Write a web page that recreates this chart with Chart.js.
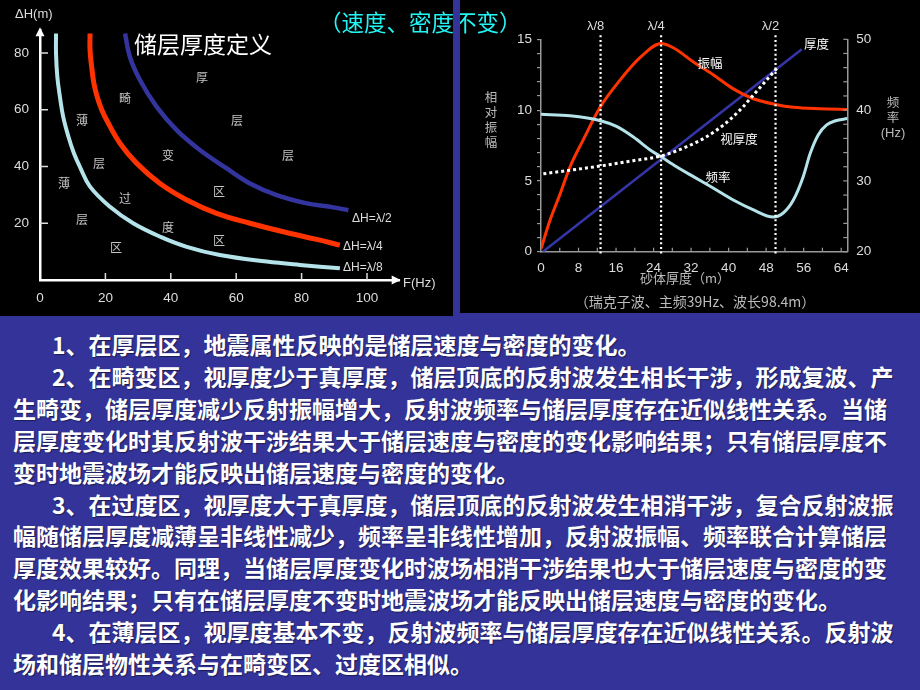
<!DOCTYPE html>
<html>
<head>
<meta charset="utf-8">
<script src="https://cdn.jsdelivr.net/npm/chart.js@4.4.1/dist/chart.umd.min.js"></script>
<style>
html,body{margin:0;padding:0;}
body{width:920px;height:690px;background:#333399;position:relative;overflow:hidden;font-family:"Noto Sans CJK SC",sans-serif;}
#lp{position:absolute;left:0;top:0;width:453px;height:316px;background:#000;}
#rp{position:absolute;left:460px;top:0;width:460px;height:313px;background:#000;}
#c1{position:absolute;left:0;top:0;}
#c2{position:absolute;left:460px;top:0;}
#title{position:absolute;left:319px;top:8px;font-size:22.5px;line-height:26px;color:#22f4f4;white-space:nowrap;}
#stripe{position:absolute;left:453px;top:0;width:7px;height:316px;background:#333399;}
#txt{position:absolute;left:0;top:329px;width:920px;color:#fff;font-weight:bold;font-size:23px;line-height:31.9px;text-shadow:1px 1px 1px rgba(0,0,0,.45);}
#txt div{white-space:nowrap;padding-left:13px;}
#txt div.ind{padding-left:52px;}
</style>
</head>
<body>
<div id="lp"></div>
<div id="rp"></div>
<canvas id="c1" width="453" height="316"></canvas>
<canvas id="c2" width="460" height="313"></canvas>
<div id="title">（速度、密度不变）</div>
<div id="stripe"></div>
<div id="txt">
<div class="ind">1、在厚层区，地震属性反映的是储层速度与密度的变化。</div>
<div class="ind">2、在畸变区，视厚度少于真厚度，储层顶底的反射波发生相长干涉，形成复波、产</div>
<div>生畸变，储层厚度减少反射振幅增大，反射波频率与储层厚度存在近似线性关系。当储</div>
<div>层厚度变化时其反射波干涉结果大于储层速度与密度的变化影响结果；只有储层厚度不</div>
<div>变时地震波场才能反映出储层速度与密度的变化。</div>
<div class="ind">3、在过度区，视厚度大于真厚度，储层顶底的反射波发生相消干涉，复合反射波振</div>
<div>幅随储层厚度减薄呈非线性减少，频率呈非线性增加，反射波振幅、频率联合计算储层</div>
<div>厚度效果较好。同理，当储层厚度变化时波场相消干涉结果也大于储层速度与密度的变</div>
<div>化影响结果；只有在储层厚度不变时地震波场才能反映出储层速度与密度的变化。</div>
<div class="ind">4、在薄层区，视厚度基本不变，反射波频率与储层厚度存在近似线性关系。反射波</div>
<div>场和储层物性关系与在畸变区、过度区相似。</div>
</div>
<script>
// ---------- Left chart data: ΔH (m) vs F (Hz) ----------
const leftFreqTicks = [0, 20, 40, 60, 80, 100];
const leftDepthTicks = [20, 40, 60, 80];
const lam8Freq = [4.9, 4.9, 5.3, 6.1, 7.1, 8.7, 10.4, 12.2, 15.3, 21.4, 28.5, 36.7, 44.9, 55.0, 69.3, 79.5, 91.7];
const lam8Dh   = [86.9, 79.8, 71.6, 64.5, 57.5, 50.5, 44.6, 39.9, 32.9, 25.8, 20.0, 15.3, 11.7, 8.8, 6.5, 5.3, 4.1];
const lam4Freq = [15.3, 15.3, 15.8, 16.5, 17.5, 18.9, 20.4, 24.5, 29.6, 36.7, 44.9, 54.0, 64.2, 74.4, 84.6, 91.7];
const lam4Dh   = [86.9, 81.0, 75.1, 69.2, 64.5, 59.9, 56.3, 48.1, 41.1, 34.0, 28.2, 23.5, 20.0, 17.0, 14.3, 12.3];
const lam2Freq = [26.0, 27.5, 30.6, 35.7, 41.8, 48.9, 57.1, 64.2, 72.4, 81.6, 89.7, 94.3];
const lam2Dh   = [86.9, 78.6, 70.4, 61.0, 52.8, 45.8, 39.3, 34.0, 29.9, 27.0, 25.6, 24.6];
const curveNames = ['ΔH=λ/8', 'ΔH=λ/4', 'ΔH=λ/2'];

// ---------- Right chart data: vs 砂体厚度 (m) ----------
const thickTicks = [0, 8, 16, 24, 32, 40, 48, 56, 64];
const ampTickLabels = [0, 5, 10, 15];
const freqTickLabels = [20, 30, 40, 50];
const lambdaNames = ['λ/8', 'λ/4', 'λ/2'];
const lambdaThick = [12.7, 25.6, 50.0];
const trueThickX = [0.4, 55.6];
const trueThickY = [0, 14.3];
const ampX = [0, 1.9, 4.1, 6.2, 9.0, 12.6, 16.8, 21.1, 25.6, 28.2, 32.5, 36.7, 41.0, 45.3, 50.0, 53.8, 59.5, 65.3];
const ampY = [0.2, 2.2, 4.1, 6.0, 7.9, 10.2, 12.1, 13.7, 14.7, 14.4, 13.4, 12.5, 11.5, 10.8, 10.4, 10.2, 10.1, 10.05];
const freqX = [0, 6.2, 12.7, 16.1, 19.7, 23.2, 25.6, 28.9, 32.5, 36.7, 41.0, 45.3, 49.5, 51.7, 53.8, 55.9, 57.4, 59.1, 60.9, 62.8, 65.3];
const freqHz = [39.4, 39.2, 38.5, 37.7, 36.2, 34.4, 33.4, 32.0, 30.6, 29.0, 27.3, 25.9, 24.9, 25.5, 27.3, 30.6, 33.9, 36.5, 37.9, 38.5, 38.8];
const appThickX = [0.5, 12.6, 19.7, 25.6, 31.1, 35.3, 38.9, 42.4, 45.3, 48.1, 50.6];
const appThickY = [5.5, 6.05, 6.43, 6.76, 7.42, 8.12, 8.95, 10.0, 11.07, 12.13, 13.07];

const LAT = '"Liberation Sans", Arial, "Noto Sans CJK SC", sans-serif';
const CJK = '"Noto Sans CJK SC", sans-serif';
const zip = (xs, ys) => xs.map((x, i) => ({x, y: ys[i]}));

// ---------- Left chart ----------
const leftDecor = {
  id: 'leftDecor',
  afterDraw(chart) {
    const {ctx, chartArea: a, scales: {x, y}} = chart;
    ctx.save();
    ctx.fillStyle = '#fff';
    ctx.beginPath(); ctx.moveTo(a.left, a.top - 3); ctx.lineTo(a.left - 4.5, a.top + 6); ctx.lineTo(a.left + 4.5, a.top + 6); ctx.closePath(); ctx.fill();
    ctx.beginPath(); ctx.moveTo(a.right + 1, a.bottom); ctx.lineTo(a.right - 8, a.bottom - 4.5); ctx.lineTo(a.right - 8, a.bottom + 4.5); ctx.closePath(); ctx.fill();
    ctx.strokeStyle = '#ddd'; ctx.lineWidth = 1.5;
    leftDepthTicks.forEach(v => { const p = y.getPixelForValue(v); ctx.beginPath(); ctx.moveTo(a.left, p); ctx.lineTo(a.left + 8, p); ctx.stroke(); });
    leftFreqTicks.filter(v => v > 0).forEach(v => { const p = x.getPixelForValue(v); ctx.beginPath(); ctx.moveTo(p, a.bottom); ctx.lineTo(p, a.bottom - 7); ctx.stroke(); });
    ctx.fillStyle = '#ddd'; ctx.textBaseline = 'middle'; ctx.textAlign = 'left';
    ctx.font = '13px ' + LAT;
    ctx.fillText('ΔH(m)', 15, 14);
    ctx.fillText('F(Hz)', 403, 283);
    ctx.font = '12px ' + LAT;
    ctx.fillText(curveNames[2], 352, 219);
    ctx.fillText(curveNames[1], 343, 247);
    ctx.fillText(curveNames[0], 343, 268);
    ctx.fillStyle = '#fff';
    ctx.font = '23px ' + CJK;
    ctx.fillText('储层厚度定义', 134, 44);
    ctx.fillStyle = '#c4c4c4'; ctx.textAlign = 'center';
    ctx.font = '12px ' + CJK;
    [['厚',202,77],['畸',125,98],['层',237,120],['薄',82,120],['变',168,155],['层',288,155],['层',99,163],
     ['薄',64,183],['区',219,191],['过',125,198],['层',82,219],['度',168,227],['区',219,240],['区',116,247]]
      .forEach(([t, px, py]) => ctx.fillText(t, px, py));
    ctx.restore();
  }
};

new Chart(document.getElementById('c1'), {
  type: 'line',
  data: {
    datasets: [
      {data: zip(lam8Freq, lam8Dh), borderColor: '#b4e4ea', borderWidth: 4},
      {data: zip(lam4Freq, lam4Dh), borderColor: '#ff3300', borderWidth: 5},
      {data: zip(lam2Freq, lam2Dh), borderColor: '#34349e', borderWidth: 4.5}
    ]
  },
  options: {
    responsive: false, animation: false, events: [], devicePixelRatio: 1,
    layout: {padding: {top: 30.3, right: 53.3, left: 0, bottom: 0}},
    elements: {point: {radius: 0}, line: {tension: 0.4, fill: false}},
    plugins: {legend: {display: false}, tooltip: {enabled: false}},
    scales: {
      x: {
        type: 'linear', min: 0, max: 110,
        afterBuildTicks: s => { s.ticks = leftFreqTicks.map(v => ({value: v})); },
        afterFit: s => { s.height = 36; },
        grid: {display: true, drawOnChartArea: false, drawTicks: false, color: 'rgba(0,0,0,0)'},
        border: {display: true, color: '#fff', width: 2.5},
        ticks: {color: '#ddd', font: {size: 13.5, family: LAT}, padding: 10, maxRotation: 0, autoSkip: false}
      },
      y: {
        type: 'linear', min: 0, max: 88,
        afterBuildTicks: s => { s.ticks = leftDepthTicks.map(v => ({value: v})); },
        afterFit: s => { s.width = 40; },
        grid: {display: true, drawOnChartArea: false, drawTicks: false, color: 'rgba(0,0,0,0)'},
        border: {display: true, color: '#fff', width: 2.5},
        ticks: {color: '#ddd', font: {size: 13.5, family: LAT}, padding: 11, autoSkip: false}
      }
    }
  },
  plugins: [leftDecor]
});

// ---------- Right chart ----------
const rightDecor = {
  id: 'rightDecor',
  afterDatasetsDraw(chart) {
    const {ctx, chartArea: a, scales: {x}} = chart;
    ctx.save();
    ctx.strokeStyle = '#fff'; ctx.lineWidth = 2.2; ctx.setLineDash([2, 2.6]);
    lambdaThick.forEach(v => { const p = x.getPixelForValue(v); ctx.beginPath(); ctx.moveTo(p, a.top - 4); ctx.lineTo(p, a.bottom + 4); ctx.stroke(); });
    ctx.restore();
  },
  afterDraw(chart) {
    const {ctx, chartArea: a, scales: {x, y2}} = chart;
    ctx.save();
    ctx.strokeStyle = '#999'; ctx.lineWidth = 1.2;
    for (let v = 20; v <= 50; v += 2) { const p = y2.getPixelForValue(v); ctx.beginPath(); ctx.moveTo(a.right, p); ctx.lineTo(a.right - 4, p); ctx.stroke(); }
    for (let v = 4; v <= 64; v += 4) { const p = x.getPixelForValue(v); ctx.beginPath(); ctx.moveTo(p, a.bottom); ctx.lineTo(p, a.bottom - 4); ctx.stroke(); }
    ctx.textBaseline = 'middle'; ctx.textAlign = 'center';
    ctx.fillStyle = '#ddd'; ctx.font = '13px ' + LAT;
    lambdaThick.forEach((v, i) => ctx.fillText(lambdaNames[i], x.getPixelForValue(v) - 5, 26));
    ctx.fillStyle = '#fff'; ctx.font = '12.5px ' + CJK;
    ctx.textAlign = 'left'; ctx.fillText('厚度', 344, 44);
    ctx.textAlign = 'center';
    ctx.fillText('振幅', 250, 63);
    ctx.fillText('视厚度', 279, 139);
    ctx.fillText('频率', 258, 177);
    ctx.fillStyle = '#bbb';
    ['相', '对', '振', '幅'].forEach((t, i) => ctx.fillText(t, 31, 97 + i * 15));
    ['频', '率'].forEach((t, i) => ctx.fillText(t, 433, 102 + i * 15));
    ctx.font = '13px ' + LAT; ctx.fillText('(Hz)', 433, 133);
    ctx.font = '13px ' + CJK; ctx.fillText('砂体厚度（m）', 225, 278);
    ctx.font = '14px ' + CJK; ctx.fillText('（瑞克子波、主频39Hz、波长98.4m）', 235, 302);
    ctx.restore();
  }
};

new Chart(document.getElementById('c2'), {
  type: 'line',
  data: {
    datasets: [
      {data: zip(appThickX, appThickY), yAxisID: 'y', borderColor: '#fff', borderWidth: 3, borderDash: [3, 3]},
      {data: zip(freqX, freqHz), yAxisID: 'y2', borderColor: '#b4e4ea', borderWidth: 3},
      {data: zip(ampX, ampY), yAxisID: 'y', borderColor: '#ff3300', borderWidth: 3},
      {data: zip(trueThickX, trueThickY), yAxisID: 'y', borderColor: '#3535a8', borderWidth: 2.6}
    ]
  },
  options: {
    responsive: false, animation: false, events: [], devicePixelRatio: 1,
    layout: {padding: {top: 39.3, right: 0, left: 0, bottom: 0}},
    elements: {point: {radius: 0}, line: {cubicInterpolationMode: 'monotone', fill: false}},
    plugins: {legend: {display: false}, tooltip: {enabled: false}},
    scales: {
      x: {
        type: 'linear', min: 0, max: 65.3,
        afterBuildTicks: s => { s.ticks = thickTicks.map(v => ({value: v})); },
        afterFit: s => { s.height = 61.3; },
        grid: {display: true, drawOnChartArea: false, drawTicks: false, color: 'rgba(0,0,0,0)'},
        border: {display: true, color: '#999', width: 1.5},
        ticks: {color: '#ddd', font: {size: 13.5, family: LAT}, padding: 8, maxRotation: 0, autoSkip: false}
      },
      y: {
        type: 'linear', position: 'left', min: 0, max: 15,
        afterBuildTicks: s => { const t = []; for (let v = 0; v <= 15; v++) t.push({value: v}); s.ticks = t; },
        afterFit: s => { s.width = 81; },
        grid: {display: true, drawOnChartArea: false, drawTicks: true, tickLength: 4, color: '#999', lineWidth: 1.2},
        border: {display: true, color: '#999', width: 1.5},
        ticks: {color: '#ddd', font: {size: 13.5, family: LAT}, padding: 5, autoSkip: false,
                callback: v => ampTickLabels.includes(v) ? String(v) : ''}
      },
      y2: {
        type: 'linear', position: 'right', min: 20, max: 50,
        afterBuildTicks: s => { s.ticks = freqTickLabels.map(v => ({value: v})); },
        afterFit: s => { s.width = 72.7; },
        grid: {display: true, drawOnChartArea: false, drawTicks: false, color: 'rgba(0,0,0,0)'},
        border: {display: true, color: '#999', width: 1.5},
        ticks: {color: '#ddd', font: {size: 13.5, family: LAT}, padding: 9, autoSkip: false}
      }
    }
  },
  plugins: [rightDecor]
});
</script>
</body>
</html>
